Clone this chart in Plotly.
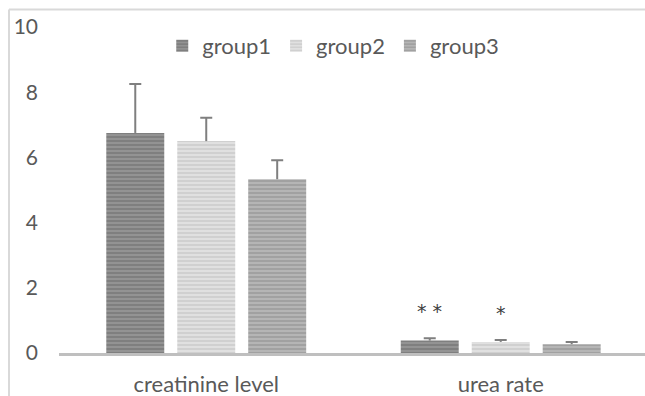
import plotly.graph_objects as go

categories = ["creatinine level", "urea rate"]
groups = ["group1", "group2", "group3"]
means = {
    "group1": [6.75, 0.38],
    "group2": [6.5, 0.34],
    "group3": [5.33, 0.27],
}
errors = {
    "group1": [1.5, 0.07],
    "group2": [0.72, 0.06],
    "group3": [0.58, 0.07],
}
y_ticks = [0, 2, 4, 6, 8, 10]
# significance marks above the urea bars
stars = {"group1": "* *", "group2": "*"}

fills = {
    "group1": ("#939393", "#666666"),
    "group2": ("#e0e0e0", "#bdbdbd"),
    "group3": ("#b5b5b5", "#8a8a8a"),
}

font_family = "Lato, 'Open Sans', sans-serif"
text_color = "#595959"
err_color = "#7f7f7f"

fig = go.Figure()
for g in groups:
    bg, fg = fills[g]
    # bars with an upward whisker (no caps)
    fig.add_trace(go.Bar(
        name=g,
        x=categories,
        y=means[g],
        offsetgroup=g,
        marker=dict(
            color=bg,
            line=dict(width=0),
            pattern=dict(shape="-", fgcolor=fg, bgcolor=bg, size=4, solidity=0.45),
        ),
        error_y=dict(
            type="data", symmetric=False, array=errors[g],
            arrayminus=[0] * len(categories),
            color=err_color, thickness=2, width=0,
        ),
    ))
for g in groups:
    # transparent bars carrying only the cap at the top of each whisker
    tops = [m + e for m, e in zip(means[g], errors[g])]
    fig.add_trace(go.Bar(
        x=categories, y=tops, offsetgroup=g, showlegend=False, hoverinfo="skip",
        marker=dict(color="rgba(0,0,0,0)", line=dict(width=0)),
        error_y=dict(type="data", symmetric=True, array=[0] * len(categories),
                     color=err_color, thickness=2, width=6),
    ))

# star annotations over the urea bars, shifted to each bar's slot
slot = {"group1": -71, "group2": 0, "group3": 71}
for g, s in stars.items():
    fig.add_annotation(
        x="urea rate", y=means[g][1] + errors[g][1],
        text=s, showarrow=False, xshift=slot[g], yshift=27,
        font=dict(family="DejaVu Sans", size=19, color="#404040"),
    )

# light frame around the chart area
fig.add_shape(type="line", xref="paper", yref="paper",
              x0=-0.0853, x1=-0.0853, y0=-0.2, y1=1.0534,
              line=dict(color="#d9d9d9", width=2))
fig.add_shape(type="line", xref="paper", yref="paper",
              x0=-0.0853, x1=1.1, y0=1.0534, y1=1.0534,
              line=dict(color="#d9d9d9", width=2))

fig.update_layout(
    width=645, height=396,
    margin=dict(l=59, r=0, t=27, b=43),
    paper_bgcolor="white", plot_bgcolor="white",
    barmode="group", bargap=0.277, bargroupgap=0.183,
    font=dict(family=font_family, size=22, color=text_color),
    showlegend=True,
    legend=dict(orientation="h", x=0.468, y=0.942, xanchor="center", yanchor="middle",
                font=dict(size=22, color=text_color), itemwidth=30,
                bgcolor="rgba(0,0,0,0)", traceorder="normal"),
    xaxis=dict(range=[-0.5, 1.49], showline=True, linecolor="#bfbfbf", linewidth=3,
               ticks="", showgrid=False, ticklabelstandoff=10, fixedrange=True,
               tickfont=dict(size=22)),
    yaxis=dict(range=[0, 10], tickvals=y_ticks, showgrid=False, zeroline=False,
               showline=False, ticks="", ticklabelstandoff=20, fixedrange=True,
               tickfont=dict(size=21)),
)

fig.write_html("out.html")
